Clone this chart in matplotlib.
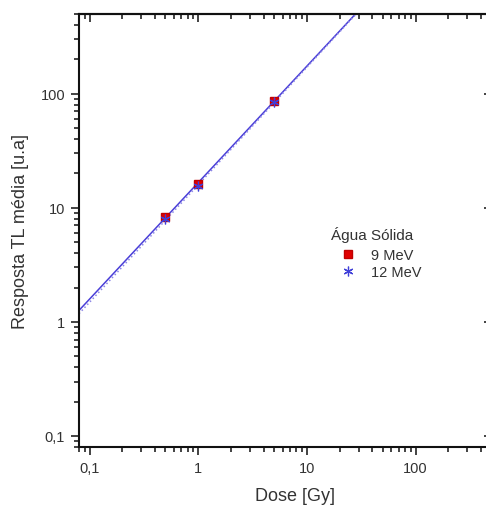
import numpy as np
import matplotlib
matplotlib.use("Agg")
import matplotlib.pyplot as plt
from matplotlib.ticker import LogLocator, FuncFormatter, NullFormatter

plt.rcParams['font.family'] = ['Liberation Sans', 'DejaVu Sans']

dose = [0.5, 1, 5]
resp_9mev = [8.3, 16.3, 86.5]
resp_12mev = [7.9, 15.6, 84.0]
series_labels = ["9 MeV", "12 MeV"]
legend_title = "Água Sólida"
xlim = (0.08, 500)
ylim = (0.08, 500)

W, H = 486, 506
fig = plt.figure(figsize=(W/100, H/100), dpi=100)
ax = fig.add_axes([79/W, 1-448/H, (491.5-79)/W, (448-15)/H])
ax.set_xscale('log')
ax.set_yscale('log')
ax.set_xlim(*xlim)
ax.set_ylim(*ylim)

# log-log fits from data
xs = np.array(xlim)
for vals, col, ls in [(resp_9mev, '#4a3fd8', '-'), (resp_12mev, '#8c86e6', ':')]:
    c = np.polyfit(np.log10(dose), np.log10(vals), 1)
    ax.plot(xs, 10**np.polyval(c, np.log10(xs)), color=col, lw=1.1, ls=ls, zorder=2)

ax.plot(dose, resp_9mev, ls='none', marker='s', ms=6, color='#e00000',
        mec='#c00000', label=series_labels[0], zorder=3)
ax.plot(dose, resp_12mev, ls='none', marker=(6, 2, 0), ms=7, color='#4040d8',
        mew=0.9, label=series_labels[1], zorder=4)

fmt = FuncFormatter(lambda v, p: ("%g" % v).replace('.', ','))
for axis in (ax.xaxis, ax.yaxis):
    axis.set_major_locator(LogLocator(base=10, numticks=10))
    axis.set_minor_locator(LogLocator(base=10, subs=np.arange(2, 10), numticks=20))
    axis.set_major_formatter(fmt)
    axis.set_minor_formatter(NullFormatter())

ax.tick_params(which='both', direction='out', top=False, right=False,
               labelsize=10.5, colors='#222222', labelcolor='#333333', width=1.2)
ax.tick_params(which='major', length=6, pad=4)
ax.tick_params(which='minor', length=3.5)

# inward ticks on top and right
ax2 = ax.secondary_xaxis('top')
ax2.tick_params(which='both', direction='in', labeltop=False, width=1.2, colors='#222222')
ax2.tick_params(which='major', length=6)
ax2.tick_params(which='minor', length=3.5)
ax2.xaxis.set_major_formatter(NullFormatter())
ax2.xaxis.set_minor_formatter(NullFormatter())
ay2 = ax.secondary_yaxis('right')
ay2.tick_params(which='both', direction='in', labelright=False, width=1.2, colors='#222222')
ay2.tick_params(which='major', length=6)
ay2.tick_params(which='minor', length=3.5)
ay2.yaxis.set_major_formatter(NullFormatter())
ay2.yaxis.set_minor_formatter(NullFormatter())

for s in ax.spines.values():
    s.set_linewidth(1.5)
    s.set_color('#111111')
for sec in (ax2, ay2):
    for s in sec.spines.values():
        s.set_linewidth(1.5)
        s.set_color('#111111')

ax.set_xlabel("Dose [Gy]", fontsize=13, color='#333333')
ax.set_ylabel("Resposta TL média [u.a]", fontsize=13, color='#333333')
ax.xaxis.set_label_coords(0.524, -0.093)
ax.yaxis.set_label_coords(-0.121, 0.5)

# legend title as text, entries as legend
ax.text((331-79)/412.5, (448-235)/433, legend_title, transform=ax.transAxes,
        ha='left', va='center', fontsize=11, color='#333333')
leg = ax.legend(loc='upper left',
                bbox_to_anchor=((333-79)/412.5, (448-242)/433),
                frameon=False, fontsize=10.5, handlelength=1.0,
                handletextpad=1.1, borderpad=0, labelspacing=0.2)
for t in leg.get_texts():
    t.set_color('#333333')

fig.savefig("out.png", dpi=100)
